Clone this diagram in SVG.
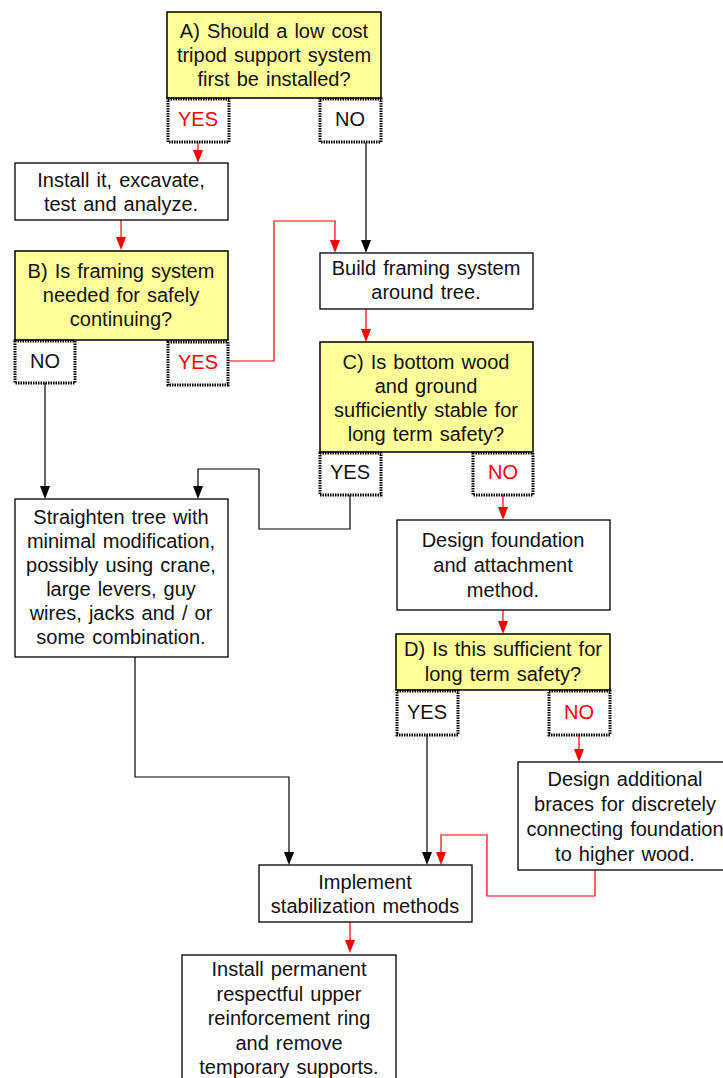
<svg xmlns="http://www.w3.org/2000/svg" width="723" height="1078" viewBox="0 0 723 1078">
<style>
.bg{fill:#fff}
.q{fill:#ffff99;stroke:#000;stroke-width:1.5}
.b{fill:#fff;stroke:#000;stroke-width:1.3}
.a{fill:#fff;stroke:#000;stroke-width:3;stroke-dasharray:1.5 1}
text{font-family:"Liberation Sans",Arial,sans-serif;font-size:20px;word-spacing:1.5px;fill:#111;text-anchor:middle}
.r{fill:#ff0000}
.k{fill:none;stroke:#000;stroke-width:1.2}
.rl{fill:none;stroke:#ff0000;stroke-width:1.2}
</style>
<rect class="bg" x="0" y="0" width="723" height="1078"/>
<g id="connectors">
<path class="rl" d="M198,142 V158"/><path d="M193,150 L203,150 L198,163 Z" fill="#f00"/>
<path class="k" d="M366,142 V241"/><path d="M361,240 L371,240 L366,253 Z" fill="#000"/>
<path class="rl" d="M121,220 V240"/><path d="M116,237 L126,237 L121,250 Z" fill="#f00"/>
<path class="rl" d="M229,361 H274 V221 H335 V241"/><path d="M330,240 L340,240 L335,253 Z" fill="#f00"/>
<path class="rl" d="M366,309 V332"/><path d="M361,329 L371,329 L366,342 Z" fill="#f00"/>
<path class="k" d="M45,383 V487"/><path d="M40,486 L50,486 L45,499 Z" fill="#000"/>
<path class="k" d="M350,495 V529 H259 V469 H198 V487"/><path d="M193,486 L203,486 L198,499 Z" fill="#000"/>
<path class="rl" d="M503,495 V510"/><path d="M498,507 L508,507 L503,520 Z" fill="#f00"/>
<path class="rl" d="M503,610 V624"/><path d="M498,621 L508,621 L503,634 Z" fill="#f00"/>
<path class="k" d="M135,657 V777 H289 V853"/><path d="M284,852 L294,852 L289,865 Z" fill="#000"/>
<path class="k" d="M427,735 V853"/><path d="M422,852 L432,852 L427,865 Z" fill="#000"/>
<path class="rl" d="M579,735 V752"/><path d="M574,749 L584,749 L579,762 Z" fill="#f00"/>
<path class="rl" d="M595,870 V896 H487 V835 H441 V853"/><path d="M436,852 L446,852 L441,865 Z" fill="#f00"/>
<path class="rl" d="M350,922 V943"/><path d="M345,940 L355,940 L350,953 Z" fill="#f00"/>
</g>
<g id="nodeA">
<rect class="q" x="167" y="12" width="214" height="86"/>
<text x="274" y="38">A) Should a low cost</text>
<text x="274" y="62">tripod support system</text>
<text x="274" y="86">first be installed?</text>
</g>
<g id="nodeA-yes"><rect class="a" x="168" y="99" width="61" height="43"/><text class="r" x="198" y="126">YES</text></g>
<g id="nodeA-no"><rect class="a" x="320" y="99" width="61" height="43"/><text x="350" y="126">NO</text></g>
<g id="nodeInstall">
<rect class="b" x="15" y="163" width="213" height="57"/>
<text x="121" y="187">Install it, excavate,</text>
<text x="121" y="211">test and analyze.</text>
</g>
<g id="nodeB">
<rect class="q" x="15" y="251" width="213" height="89"/>
<text x="121" y="278">B) Is framing system</text>
<text x="121" y="302">needed for safely</text>
<text x="121" y="326">continuing?</text>
</g>
<g id="nodeB-no"><rect class="a" x="15" y="341" width="60" height="42"/><text x="45" y="368">NO</text></g>
<g id="nodeB-yes"><rect class="a" x="168" y="342" width="60" height="43"/><text class="r" x="198" y="369">YES</text></g>
<g id="nodeBuild">
<rect class="b" x="320" y="253" width="213" height="56"/>
<text x="426" y="275">Build framing system</text>
<text x="426" y="299">around tree.</text>
</g>
<g id="nodeC">
<rect class="q" x="320" y="342" width="213" height="110"/>
<text x="426" y="369">C) Is bottom wood</text>
<text x="426" y="393">and ground</text>
<text x="426" y="417">sufficiently stable for</text>
<text x="426" y="441">long term safety?</text>
</g>
<g id="nodeC-yes"><rect class="a" x="320" y="453" width="61" height="42"/><text x="350" y="479">YES</text></g>
<g id="nodeC-no"><rect class="a" x="473" y="453" width="60" height="42"/><text class="r" x="503" y="479">NO</text></g>
<g id="nodeStraighten">
<rect class="b" x="15" y="499" width="213" height="158"/>
<text x="121" y="524">Straighten tree with</text>
<text x="121" y="548">minimal modification,</text>
<text x="121" y="572">possibly using crane,</text>
<text x="121" y="596">large levers, guy</text>
<text x="121" y="620">wires, jacks and / or</text>
<text x="121" y="644">some combination.</text>
</g>
<g id="nodeDesignFoundation">
<rect class="b" x="397" y="520" width="213" height="90"/>
<text x="503" y="547">Design foundation</text>
<text x="503" y="572">and attachment</text>
<text x="503" y="597">method.</text>
</g>
<g id="nodeD">
<rect class="q" x="396" y="634" width="214" height="56"/>
<text x="503" y="656">D) Is this sufficient for</text>
<text x="503" y="681">long term safety?</text>
</g>
<g id="nodeD-yes"><rect class="a" x="397" y="691" width="61" height="44"/><text x="427" y="719">YES</text></g>
<g id="nodeD-no"><rect class="a" x="549" y="691" width="61" height="44"/><text class="r" x="579" y="719">NO</text></g>
<g id="nodeBraces">
<rect class="b" x="518" y="762" width="214" height="108"/>
<text x="625" y="786">Design additional</text>
<text x="625" y="811">braces for discretely</text>
<text x="625" y="836">connecting foundation</text>
<text x="625" y="861">to higher wood.</text>
</g>
<g id="nodeImplement">
<rect class="b" x="259" y="865" width="213" height="57"/>
<text x="365" y="889">Implement</text>
<text x="365" y="913">stabilization methods</text>
</g>
<g id="nodePermanent">
<rect class="b" x="182" y="955" width="214" height="130"/>
<text x="289" y="976">Install permanent</text>
<text x="289" y="1001">respectful upper</text>
<text x="289" y="1025">reinforcement ring</text>
<text x="289" y="1050">and remove</text>
<text x="289" y="1074">temporary supports.</text>
</g>
</svg>
